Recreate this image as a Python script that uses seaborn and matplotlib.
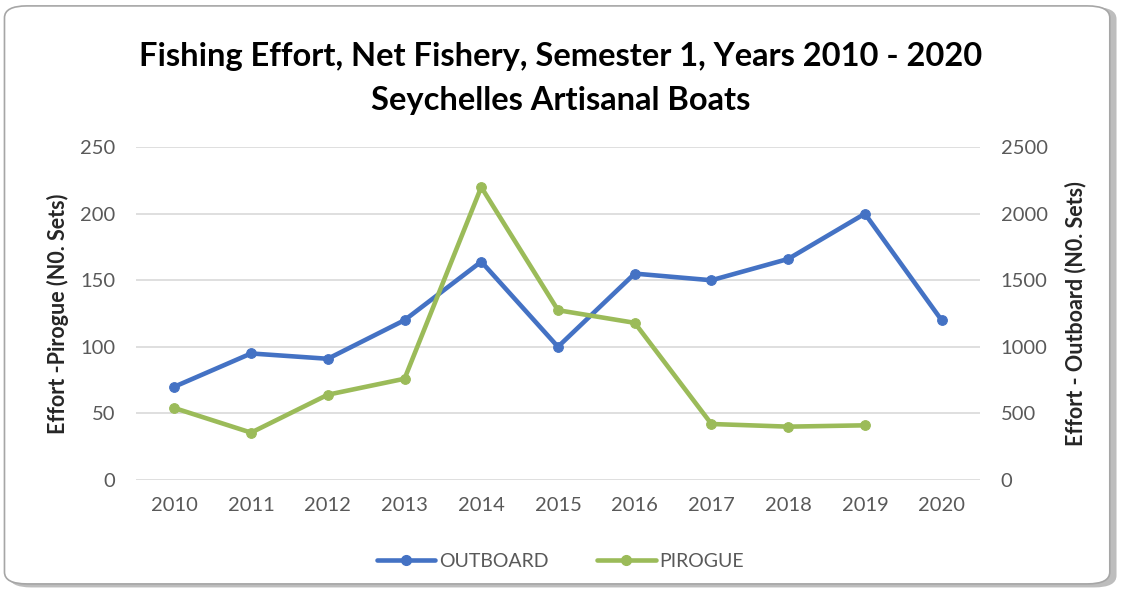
import numpy as np
import pandas as pd
import seaborn as sns
import matplotlib.pyplot as plt
from matplotlib.patches import FancyBboxPatch
from matplotlib.lines import Line2D

# values
years = [2010, 2011, 2012, 2013, 2014, 2015, 2016, 2017, 2018, 2019, 2020]
outboard = [700, 950, 910, 1200, 1640, 1000, 1550, 1500, 1660, 2000, 1200]
pirogue = [54, 35.5, 64, 76, 220, 127.5, 118, 42, 40, 41, np.nan]

left_ticks = [0, 50, 100, 150, 200, 250]
right_ticks = [0, 500, 1000, 1500, 2000, 2500]

blue = '#4472C4'
green = '#9BBB59'

df = pd.DataFrame({'Year': years, 'OUTBOARD': outboard, 'PIROGUE': pirogue})

sns.set_style('white')
plt.rcParams['font.family'] = ['Lato', 'DejaVu Sans']

fig = plt.figure(figsize=(11.21, 5.91), dpi=100)

# rounded frame with a soft shadow like the excel chart area
shadow = FancyBboxPatch((0.008, 0.006), 0.988, 0.982, boxstyle='round,pad=0,rounding_size=0.02',
                        transform=fig.transFigure, facecolor='#bdbdbd', edgecolor='none', zorder=-2)
frame = FancyBboxPatch((0.004, 0.012), 0.986, 0.978, boxstyle='round,pad=0,rounding_size=0.02',
                       transform=fig.transFigure, facecolor='white', edgecolor='#a6a6a6', lw=1.2, zorder=-1)
fig.patches.extend([shadow, frame])

ax = fig.add_axes([0.1213, 0.188, 0.7529, 0.563])
ax2 = ax.twinx()

# pirogue axis on top so the green line crosses over the blue one
ax.set_zorder(ax2.get_zorder() + 1)
ax.patch.set_alpha(0)

sns.lineplot(data=df, x='Year', y='PIROGUE', ax=ax, color=green, marker='o',
             markersize=7, markeredgecolor=green, linewidth=3.3, zorder=3)
sns.lineplot(data=df, x='Year', y='OUTBOARD', ax=ax2, color=blue, marker='o',
             markersize=7, markeredgecolor=blue, linewidth=3.3, zorder=3)

ax.set_xlim(2009.5, 2020.5)
ax.set_xticks(years)
ax.set_xticklabels([str(y) for y in years])
ax.set_ylim(0, 250)
ax.set_yticks(left_ticks)
ax2.set_ylim(0, 2500)
ax2.set_yticks(right_ticks)

ax.grid(False)
ax2.grid(axis='y', color='#d9d9d9', lw=1.2)
ax2.set_axisbelow(True)
for a in (ax, ax2):
    for s in a.spines.values():
        s.set_visible(False)
    a.tick_params(length=0, labelsize=14.5, labelcolor='#595959')
ax.tick_params(axis='x', pad=12)
ax.tick_params(axis='y', pad=15)
ax2.tick_params(axis='y', pad=15)

ax.set_xlabel('')
ax.set_ylabel('Effort -Pirogue (N0. Sets)', fontsize=15.5, fontweight='bold', labelpad=8)
ax2.set_ylabel('Effort - Outboard (N0. Sets)', fontsize=15.5, fontweight='bold', labelpad=12,
               rotation=90)

fig.text(0.5, 0.905, 'Fishing Effort, Net Fishery, Semester 1, Years 2010 - 2020',
         ha='center', va='center', fontsize=23.5, fontweight='bold', color='black')
fig.text(0.5, 0.83, 'Seychelles Artisanal Boats',
         ha='center', va='center', fontsize=23.5, fontweight='bold', color='black')

handles = [Line2D([], [], color=blue, marker='o', lw=3.3, markersize=7),
           Line2D([], [], color=green, marker='o', lw=3.3, markersize=7)]
fig.legend(handles, ['OUTBOARD', 'PIROGUE'], loc='center', bbox_to_anchor=(0.5, 0.05),
           ncol=2, frameon=False, fontsize=14, labelcolor='#595959',
           handlelength=3.0, columnspacing=2.5, handletextpad=0.2)

fig.savefig('out.png', dpi=100)
